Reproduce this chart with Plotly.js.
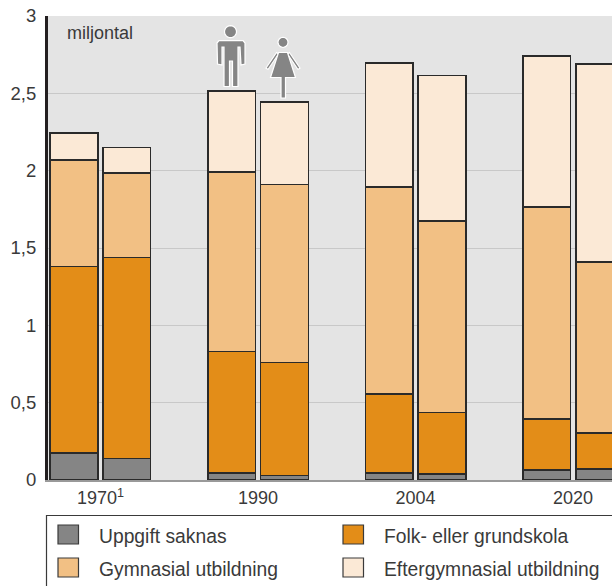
<!DOCTYPE html>
<html>
<head>
<meta charset="utf-8">
<script src="https://cdn.plot.ly/plotly-3.0.1.min.js"></script>
<style>html,body{margin:0;padding:0;background:#fff;overflow:hidden}</style>
</head>
<body>
<div id="chart" style="width:612px;height:586px"></div>
<script>
// Data (millions), order within each list: 1970 men, 1970 women, 1990 men, 1990 women, 2004 men, 2004 women, 2020 men, 2020 women
const yearLabels = ['1970<sup>1</sup>', '1990', '2004', '2020'];
const groupIndex = [0, 0, 1, 1, 2, 2, 3, 3];
const sideOffset = [-0.168, 0.168, -0.168, 0.168, -0.168, 0.168, -0.168, 0.168];
const uppgiftSaknas = [0.175, 0.14, 0.045, 0.03, 0.045, 0.04, 0.065, 0.07];
const folkGrundskola = [1.205, 1.30, 0.785, 0.73, 0.51, 0.395, 0.33, 0.235];
const gymnasial = [0.69, 0.545, 1.16, 1.15, 1.34, 1.24, 1.37, 1.105];
const eftergymnasial = [0.175, 0.165, 0.525, 0.535, 0.80, 0.94, 0.975, 1.28];
const yTickVals = [0, 0.5, 1, 1.5, 2, 2.5, 3];
const yTickText = ['0', '0,5', '1', '1,5', '2', '2,5', '3'];
const seriesNames = ['Uppgift saknas', 'Folk- eller grundskola', 'Gymnasial utbildning', 'Eftergymnasial utbildning'];
const seriesColors = ['#858585', '#e38d18', '#f2c084', '#fbe9d6'];
const seriesValues = [uppgiftSaknas, folkGrundskola, gymnasial, eftergymnasial];

const L = 48, T = 16, W = 564, H = 464;
const px = x => (x - L) / W;
const py = y => (T + H - y) / H;
const poly = pts => 'M' + pts.map(p => px(p[0]) + ',' + py(p[1])).join('L') + 'Z';
const circle = (cx, cy, r) => {
  let out = [];
  for (let a = 0; a < 24; a++) out.push([cx + r * Math.cos(a * Math.PI / 12), cy + r * Math.sin(a * Math.PI / 12)]);
  return poly(out);
};

const xPos = groupIndex.map((g, i) => g + sideOffset[i]);
const traces = seriesNames.map((name, s) => ({
  type: 'bar', name: name, x: xPos, y: seriesValues[s], width: 0.302,
  marker: {color: seriesColors[s], line: {color: '#2a2a2a', width: 1.5}},
  hoverinfo: 'y+name', showlegend: false
}));

const inkText = '#3a3a3a';
const iconStyle = {type: 'path', xref: 'paper', yref: 'paper', fillcolor: '#858585', line: {color: '#ffffff', width: 1.2}};
const shapes = [
  // legend frame
  {type: 'rect', xref: 'paper', yref: 'paper', x0: px(46.5), x1: px(640), y0: py(515.5), y1: py(620),
   line: {color: '#3a3a3a', width: 1.2}, fillcolor: 'rgba(0,0,0,0)'},
  // man
  Object.assign({path: circle(230.5, 31.7, 6)}, iconStyle),
  Object.assign({path: poly([[219, 40.7], [243, 40.7], [245, 43], [245, 64], [241, 65], [240, 47], [238, 47], [238, 86.5], [232.5, 86.5], [232.5, 61], [229.5, 61], [229.5, 86.5], [224, 86.5], [224, 47], [222, 47], [222, 65], [217.5, 64], [217, 43]])}, iconStyle),
  // woman
  Object.assign({path: circle(283, 42.3, 5)}, iconStyle),
  Object.assign({path: poly([[276.5, 52.5], [278.5, 54], [268, 69.5], [266, 68]])}, iconStyle),
  Object.assign({path: poly([[289.5, 52.5], [287.5, 54], [298, 69.5], [300, 68]])}, iconStyle),
  Object.assign({path: poly([[278.5, 52.5], [287.5, 52.5], [295.5, 77.5], [285.5, 77.5], [285.5, 98], [281, 98], [281, 77.5], [270.5, 77.5]])}, iconStyle)
];
const annotations = [
  {xref: 'paper', yref: 'paper', x: px(65), y: py(33), xanchor: 'left', yanchor: 'middle', showarrow: false,
   text: 'miljontal', font: {size: 18, color: inkText}}
];
const swatchX = [58, 343, 58, 343], swatchY = [525, 525, 558, 558], labelX = [97, 382, 97, 382];
seriesNames.forEach((name, s) => {
  shapes.push({type: 'rect', xref: 'paper', yref: 'paper', x0: px(swatchX[s]), x1: px(swatchX[s] + 20.5),
    y0: py(swatchY[s]), y1: py(swatchY[s] + 19), fillcolor: seriesColors[s], line: {color: '#3a3a3a', width: 1.2}});
  annotations.push({xref: 'paper', yref: 'paper', x: px(labelX[s]), y: py(swatchY[s] + 11), xanchor: 'left', yanchor: 'middle',
    showarrow: false, text: name, font: {size: 19.3, color: inkText}});
});

const layout = {
  width: 612, height: 586,
  margin: {l: L, r: 0, t: T, b: 586 - T - H, pad: 0},
  paper_bgcolor: '#ffffff', plot_bgcolor: '#e4e4e4',
  font: {family: '"Liberation Sans", Arial, sans-serif', color: inkText},
  barmode: 'stack', showlegend: false,
  xaxis: {range: [-0.333, 3.247], tickvals: [0, 1, 2, 3], ticktext: yearLabels, ticks: '', showgrid: false, zeroline: false,
    showline: true, linecolor: '#999999', linewidth: 1.5, tickfont: {size: 18, color: inkText}, ticklabelstandoff: 1},
  yaxis: {range: [0, 3], tickvals: yTickVals, ticktext: yTickText, ticks: '', gridcolor: '#c8c8c8', gridwidth: 1.2, zeroline: false,
    showline: true, linecolor: '#231f20', linewidth: 3, tickfont: {size: 18.5, color: inkText}, ticklabelstandoff: 5},
  shapes: shapes, annotations: annotations
};
Plotly.newPlot('chart', traces, layout, {displayModeBar: false, responsive: false});
</script>
</body>
</html>
